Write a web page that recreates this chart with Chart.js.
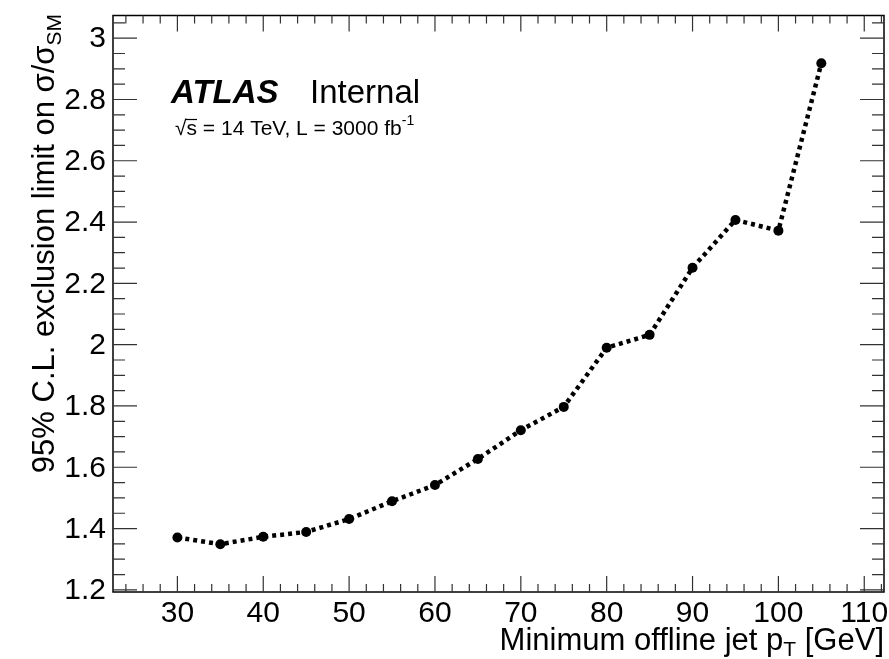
<!DOCTYPE html>
<html>
<head>
<meta charset="utf-8">
<script src="https://cdn.jsdelivr.net/npm/chart.js@4/dist/chart.umd.min.js"></script>
<style>
  html, body { margin: 0; padding: 0; background: #fff; }
  #wrap { width: 889px; height: 659px; }
</style>
</head>
<body>
<div id="wrap"><canvas id="limitChart"></canvas></div>
<script>
// minimum offline jet pT cut [GeV]
const ptCuts = [30, 35, 40, 45, 50, 55, 60, 65, 70, 75, 80, 85, 90, 95, 100, 105];
// 95% CL limit on sigma/sigma_SM
const limits = [1.371, 1.349, 1.373, 1.389, 1.431, 1.489, 1.542, 1.627, 1.721, 1.797, 1.990, 2.032, 2.251, 2.407, 2.372, 2.918];

const xTicks = [30, 40, 50, 60, 70, 80, 90, 100, 110];
const yTicks = [1.2, 1.4, 1.6, 1.8, 2, 2.2, 2.4, 2.6, 2.8, 3];

const FONT = '"Liberation Sans", Arial, Helvetica, sans-serif';

// ROOT style frame: inward ticks on all four sides, labels and titles
const rootFrame = {
    id: 'rootFrame',
    afterDraw(chart) {
        const ctx = chart.ctx;
        const a = chart.chartArea;
        const xs = chart.scales.x, ys = chart.scales.y;
        ctx.save();
        ctx.strokeStyle = '#000';
        ctx.lineWidth = 1.5;
        ctx.strokeRect(a.left, a.top, a.right - a.left, a.bottom - a.top);

        ctx.lineWidth = 1.2;
        ctx.strokeStyle = '#333';
        ctx.beginPath();
        for (let v = 24; v <= 112; v += 2) {
            const px = xs.getPixelForValue(v);
            if (px < a.left || px > a.right) continue;
            const len = v % 10 === 0 ? 16 : 8;
            ctx.moveTo(px, a.bottom); ctx.lineTo(px, a.bottom - len);
            ctx.moveTo(px, a.top); ctx.lineTo(px, a.top + len);
        }
        for (let i = 24; i <= 61; i++) {
            const py = ys.getPixelForValue(i * 0.05);
            if (py < a.top || py > a.bottom) continue;
            const len = i % 4 === 0 ? 24 : 12;
            ctx.moveTo(a.left, py); ctx.lineTo(a.left + len, py);
            ctx.moveTo(a.right, py); ctx.lineTo(a.right - len, py);
        }
        ctx.stroke();

        ctx.fillStyle = '#000';

        // tick labels
        ctx.font = '30px ' + FONT;
        ctx.textAlign = 'center';
        ctx.textBaseline = 'alphabetic';
        xTicks.forEach(v => ctx.fillText(String(v), xs.getPixelForValue(v), a.bottom + 30));
        ctx.textAlign = 'right';
        ctx.textBaseline = 'middle';
        yTicks.forEach(v => ctx.fillText(String(v), a.left - 7, ys.getPixelForValue(v) + 1));

        ctx.textBaseline = 'alphabetic';
        ctx.textAlign = 'left';

        // ATLAS label
        ctx.font = 'italic bold 33px ' + FONT;
        ctx.fillText('ATLAS', 171, 103);
        ctx.font = '33px ' + FONT;
        ctx.fillText('Internal', 310, 103);

        ctx.font = '21px ' + FONT;
        const root = '\u221A', rest = ' = 14 TeV, L = 3000 fb';
        const rw = ctx.measureText(root).width;
        const sw = ctx.measureText('s').width;
        ctx.fillText(root, 175, 135);
        ctx.fillText('s', 175 + rw, 135);
        ctx.lineWidth = 1.2;
        ctx.strokeStyle = '#000';
        ctx.beginPath();
        ctx.moveTo(175 + rw - 1, 119.5); ctx.lineTo(175 + rw + sw, 119.5);
        ctx.stroke();
        ctx.fillText(rest, 175 + rw + sw, 135);
        const w = ctx.measureText(rest).width;
        ctx.font = '14px ' + FONT;
        ctx.fillText('-1', 175 + rw + sw + w, 125);

        // x axis title, right aligned
        ctx.font = '31px ' + FONT;
        const p1 = 'Minimum offline jet p', p3 = ' [GeV]';
        const w1 = ctx.measureText(p1).width, w3 = ctx.measureText(p3).width;
        ctx.font = '21px ' + FONT;
        const w2 = ctx.measureText('T').width;
        const x0 = a.right - w1 - w2 - w3;
        ctx.font = '31px ' + FONT;
        ctx.fillText(p1, x0, 650);
        ctx.fillText(p3, x0 + w1 + w2, 650);
        ctx.font = '21px ' + FONT;
        ctx.fillText('T', x0 + w1, 656);

        // y axis title, rotated, aligned to top
        ctx.translate(54, 14);
        ctx.rotate(-Math.PI / 2);
        ctx.font = '31px ' + FONT;
        const q1 = '95% C.L. exclusion limit on \u03C3/\u03C3';
        const qw1 = ctx.measureText(q1).width;
        ctx.font = '21px ' + FONT;
        const qw2 = ctx.measureText('SM').width;
        const s0 = -qw1 - qw2;
        ctx.font = '31px ' + FONT;
        ctx.fillText(q1, s0, 0);
        ctx.font = '21px ' + FONT;
        ctx.fillText('SM', s0 + qw1, 7);
        ctx.restore();
    }
};

new Chart(document.getElementById('limitChart'), {
    type: 'line',
    data: {
        datasets: [{
            data: ptCuts.map((x, i) => ({ x: x, y: limits[i] })),
            borderColor: '#000',
            backgroundColor: '#000',
            borderWidth: 4.5,
            borderDash: [4, 4],
            borderCapStyle: 'butt',
            pointRadius: 5,
            pointBackgroundColor: '#000',
            pointBorderWidth: 0,
            tension: 0
        }]
    },
    options: {
        responsive: true,
        maintainAspectRatio: false,
        animation: false,
        events: [],
        layout: { padding: { left: 0, right: 4, top: 15.5, bottom: 0 } },
        plugins: { legend: { display: false }, tooltip: { enabled: false }, title: { display: false } },
        scales: {
            x: {
                type: 'linear',
                min: 22.5,
                max: 112.3,
                grid: { display: false },
                border: { display: false },
                ticks: { display: false },
                afterFit: s => { s.height = 67; }
            },
            y: {
                type: 'linear',
                min: 1.193,
                max: 3.074,
                grid: { display: false },
                border: { display: false },
                ticks: { display: false },
                afterFit: s => { s.width = 113; }
            }
        }
    },
    plugins: [rootFrame]
});
</script>
</body>
</html>
